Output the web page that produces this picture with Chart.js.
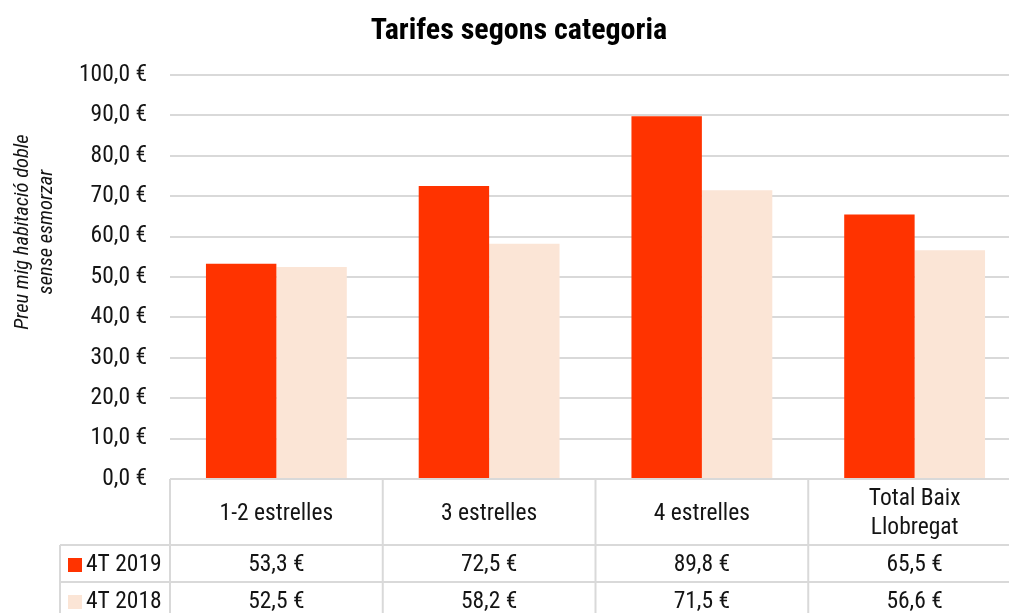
<!DOCTYPE html>
<html><head><meta charset="utf-8">
<script src="https://cdn.jsdelivr.net/npm/chart.js@4"></script>
<style>
html,body{margin:0;padding:0;overflow:hidden;background:#fff;width:1009px;height:613px}
#wrap{width:1038px;height:613px;position:relative}
</style></head>
<body><div id="wrap"><canvas id="c" width="1038" height="613"></canvas></div>
<script>
const categories = [['1-2 estrelles'], ['3 estrelles'], ['4 estrelles'], ['Total Baix', 'Llobregat']];
const seriesNames = ['4T 2019', '4T 2018'];
const values2019 = [53.3, 72.5, 89.8, 65.5];
const values2018 = [52.5, 58.2, 71.5, 56.6];
const yTicks = [0, 10, 20, 30, 40, 50, 60, 70, 80, 90, 100];
const chartTitle = 'Tarifes segons categoria';
const yTitle = ['Preu mig habitació doble', 'sense esmorzar'];

const NARROW = "'Roboto Condensed', 'Liberation Sans Narrow', sans-serif";
const RED = '#FF3300', PEACH = '#FBE5D6', GRID = '#D9D9D9', TXT = '#141414';
const fmt = v => v.toFixed(1).replace('.', ',') + ' €';

const tablePlugin = {
  id: 'dataTable',
  afterDraw(chart) {
    const ctx = chart.ctx, xs = chart.scales.x, a = chart.chartArea;
    const step = xs.getPixelForValue(1) - xs.getPixelForValue(0);
    const top = a.bottom, headH = 66, rowH = 37;
    const legendLeft = 60;
    const H = chart.height;
    ctx.save();
    ctx.strokeStyle = GRID; ctx.lineWidth = 2;
    ctx.beginPath();
    ctx.moveTo(a.left, top); ctx.lineTo(a.right, top);
    for (let r = 0; r < seriesNames.length; r++) {
      const y = top + headH + r * rowH;
      ctx.moveTo(legendLeft, y); ctx.lineTo(a.right, y);
    }
    for (let i = 0; i <= categories.length; i++) {
      const x = xs.getPixelForValue(0) - step / 2 + i * step;
      ctx.moveTo(x, top); ctx.lineTo(x, H);
    }
    ctx.moveTo(legendLeft, top + headH); ctx.lineTo(legendLeft, H);
    ctx.stroke();

    ctx.fillStyle = TXT;
    ctx.font = '23.5px ' + NARROW;
    ctx.textAlign = 'center'; ctx.textBaseline = 'middle';
    categories.forEach((lines, i) => {
      const cx = xs.getPixelForValue(i);
      const cy = top + headH / 2 + 2;
      const lh = 29;
      lines.forEach((t, k) => {
        ctx.fillText(t, cx, cy + (k - (lines.length - 1) / 2) * lh);
      });
    });
    chart.data.datasets.forEach((ds, r) => {
      const cy = top + headH + r * rowH + rowH / 2 + 1.5;
      ds.data.forEach((v, i) => {
        ctx.fillStyle = TXT; ctx.textAlign = 'center';
        ctx.fillText(fmt(v), xs.getPixelForValue(i), cy);
      });
      ctx.fillStyle = ds.backgroundColor;
      ctx.fillRect(68, cy - 7, 14, 14);
      ctx.fillStyle = TXT; ctx.textAlign = 'left';
      ctx.fillText(ds.label, 86, cy);
    });
    ctx.save();
    ctx.translate(0, 232);
    ctx.rotate(-Math.PI / 2);
    ctx.font = 'italic 20.5px ' + NARROW;
    ctx.textAlign = 'center';
    ctx.fillStyle = TXT;
    yTitle.forEach((t, k) => ctx.fillText(t, 0, 23 + k * 24));
    ctx.restore();
    ctx.restore();
  }
};

new Chart(document.getElementById('c'), {
  type: 'bar',
  data: {
    labels: categories,
    datasets: [
      { label: seriesNames[0], data: values2019, backgroundColor: RED },
      { label: seriesNames[1], data: values2018, backgroundColor: PEACH }
    ]
  },
  options: {
    responsive: false,
    animation: false,
    layout: { padding: { left: 17, right: 17, top: 0, bottom: 134 } },
    categoryPercentage: 0.662,
    barPercentage: 1,
    plugins: {
      legend: { display: false },
      tooltip: { enabled: false },
      title: {
        display: true, text: chartTitle, color: '#000',
        font: { family: NARROW, size: 30, weight: 'bold', lineHeight: 1.2 },
        padding: { top: 13, bottom: 26 }
      }
    },
    scales: {
      x: { display: false },
      y: {
        min: 0, max: 100,
        afterBuildTicks(scale) { scale.ticks = yTicks.map(v => ({ value: v })); },
        afterFit(scale) { scale.width = 153; },
        ticks: {
          padding: 23, color: TXT,
          font: { family: NARROW, size: 23.5 },
          callback: v => fmt(v)
        },
        grid: { color: GRID, lineWidth: 2, drawTicks: false },
        border: { display: false }
      }
    }
  },
  plugins: [tablePlugin]
});
</script>
</body></html>
